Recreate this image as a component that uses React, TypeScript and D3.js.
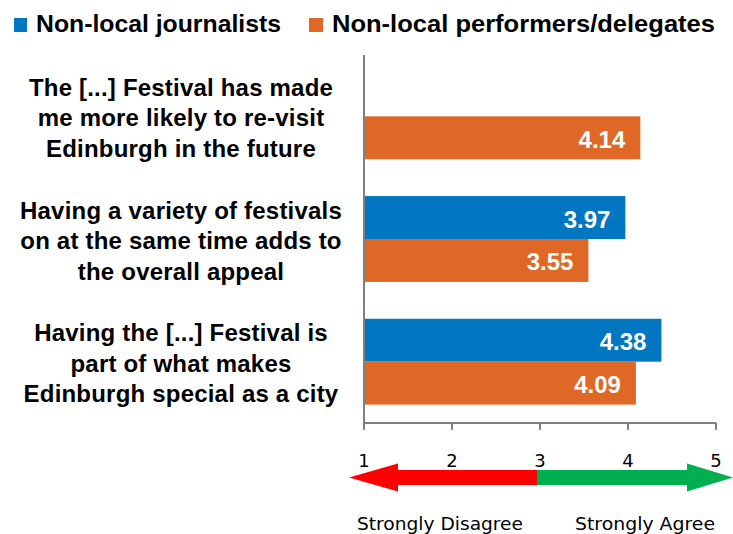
import React from "react";
import * as d3 from "d3";

const categories = [
  ["The [...] Festival has made", "me more likely to re-visit", "Edinburgh in the future"],
  ["Having a variety of festivals", "on at the same time adds to", "the overall appeal"],
  ["Having the [...] Festival is", "part of what makes", "Edinburgh special as a city"],
];
const seriesNames = ["Non-local journalists", "Non-local performers/delegates"];
const journalists: (number | null)[] = [null, 3.97, 4.38];
const performers: (number | null)[] = [4.14, 3.55, 4.09];
const tickValues = [1, 2, 3, 4, 5];
const scaleLabels = ["Strongly Disagree", "Strongly Agree"];

const COLORS = ["#0077C0", "#E06826"];
const W = 733;
const H = 534;

export default function App() {
  const keys = categories.map((_, i) => String(i));
  const x = d3.scaleLinear().domain([1, 5]).range([364, 716]);
  const y = d3.scaleBand().domain(keys).range([55, 423]).paddingInner(0.3).paddingOuter(0.15);
  const ys = d3.scaleBand().domain(["0", "1"]).range([0, y.bandwidth()]);
  const series = [journalists, performers];
  const axisY = 423;
  const arrowY = 477.5;
  const lineH = 30.5;
  const labelX = 181;

  const leftTip = x(1) - 15;
  const leftBase = leftTip + 49;
  const split = x(3) - 3;
  const rightTip = x(5) + 17;
  const rightBase = rightTip - 46;
  const sh = 7.5;
  const hh = 14;
  const redPts = [
    [leftTip, arrowY],
    [leftBase, arrowY - hh],
    [leftBase, arrowY - sh],
    [split, arrowY - sh],
    [split, arrowY + sh],
    [leftBase, arrowY + sh],
    [leftBase, arrowY + hh],
  ];
  const greenPts = [
    [split, arrowY - sh],
    [rightBase, arrowY - sh],
    [rightBase, arrowY - hh],
    [rightTip, arrowY],
    [rightBase, arrowY + hh],
    [rightBase, arrowY + sh],
    [split, arrowY + sh],
  ];
  const line = d3.line();

  return (
    <svg
      width={W}
      height={H}
      style={{ position: "absolute", left: 0, top: 0, background: "#fff" }}
      fontFamily="'Liberation Sans', Arial, sans-serif"
    >
      {/* legend */}
      <g>
        <rect x={14} y={18} width={13} height={14} fill={COLORS[0]} />
        <text x={36} y={32} fontSize={24} fontWeight="bold" fill="#000" textLength={245} lengthAdjust="spacingAndGlyphs">
          {seriesNames[0]}
        </text>
        <rect x={309} y={18} width={14} height={14} fill={COLORS[1]} />
        <text x={332} y={32} fontSize={24} fontWeight="bold" fill="#000" textLength={383} lengthAdjust="spacingAndGlyphs">
          {seriesNames[1]}
        </text>
      </g>

      {/* bars */}
      {keys.map((k, ci) =>
        series.map((s, si) => {
          const v = s[ci];
          if (v == null) return null;
          const by = (y(k) as number) + (ys(String(si)) as number);
          const bh = ys.bandwidth();
          return (
            <g key={k + "-" + si}>
              <rect x={x(1)} y={by} width={x(v) - x(1)} height={bh} fill={COLORS[si]} />
              <text
                x={x(v) - 15}
                y={by + bh / 2 + 10}
                textAnchor="end"
                fontSize={24}
                fontWeight="bold"
                fill="#fff"
              >
                {v.toFixed(2)}
              </text>
            </g>
          );
        })
      )}

      {/* category labels */}
      {keys.map((k, ci) => {
        const cy = (y(k) as number) + y.bandwidth() / 2;
        return (
          <text key={"lab" + k} textAnchor="middle" fontSize={24} fontWeight="bold" fill="#000" letterSpacing={0.2}>
            {categories[ci].map((ln, li) => (
              <tspan key={li} x={labelX} y={cy + 10 + (li - 1) * lineH}>
                {ln}
              </tspan>
            ))}
          </text>
        );
      })}

      {/* axes */}
      <line x1={x(1)} x2={x(1)} y1={y.range()[0]} y2={axisY} stroke="#808080" strokeWidth={2} />
      <line x1={x(1)} x2={x(5)} y1={axisY} y2={axisY} stroke="#808080" strokeWidth={2} />
      {tickValues.map((t) => (
        <g key={"t" + t}>
          <line x1={x(t)} x2={x(t)} y1={axisY} y2={axisY + 7} stroke="#808080" strokeWidth={2} />
          <text x={x(t)} y={467} textAnchor="middle" fontSize={18} fontFamily="'DejaVu Sans', sans-serif" fill="#000">
            {t}
          </text>
        </g>
      ))}

      {/* arrow */}
      <path d={line(redPts as [number, number][]) + "Z"} fill="#FF0000" />
      <path d={line(greenPts as [number, number][]) + "Z"} fill="#00B050" />

      <text x={357} y={530} fontSize={18} fontFamily="'DejaVu Sans', sans-serif" fill="#000" textLength={166} lengthAdjust="spacingAndGlyphs">
        {scaleLabels[0]}
      </text>
      <text x={575} y={530} fontSize={18} fontFamily="'DejaVu Sans', sans-serif" fill="#000" textLength={140} lengthAdjust="spacingAndGlyphs">
        {scaleLabels[1]}
      </text>
    </svg>
  );
}
